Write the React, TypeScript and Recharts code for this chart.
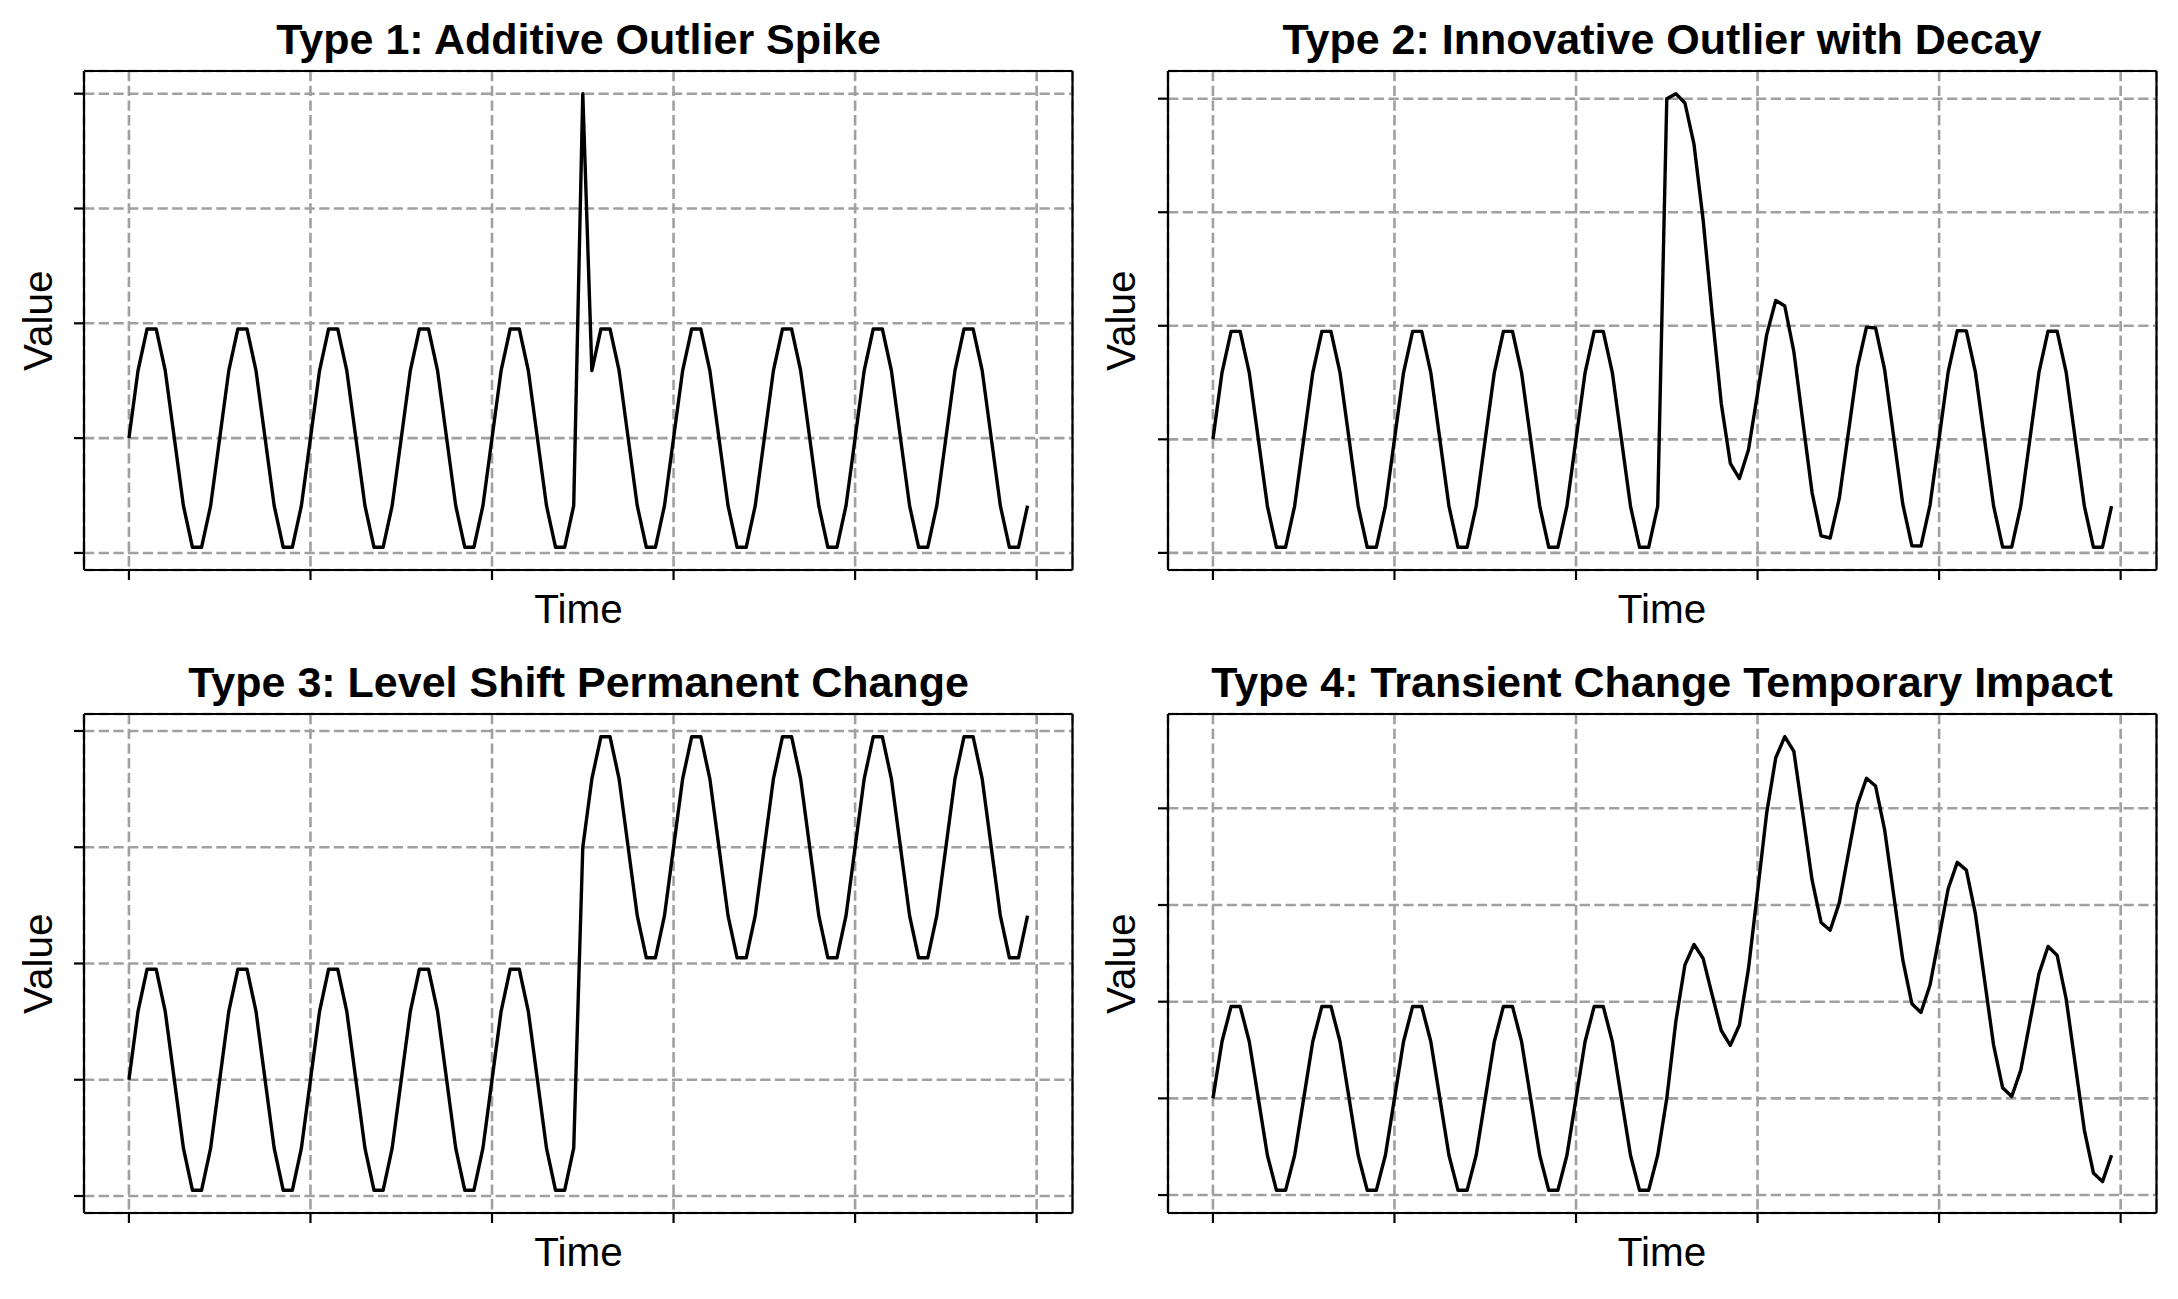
import { LineChart, Line, XAxis, YAxis, CartesianGrid } from "recharts"

// time axis ticks and value axis ticks (labels are hidden in the original)
const TIME_TICKS = [0, 20, 40, 60, 80, 100]
const VALUE_TICKS = [-1, 0, 1, 2, 3]

// Type 1: one spike at t = 50
const additive = [
  0, 0.588, 0.951, 0.951, 0.588, 0, -0.588, -0.951, -0.951, -0.588,
  0, 0.588, 0.951, 0.951, 0.588, 0, -0.588, -0.951, -0.951, -0.588,
  0, 0.588, 0.951, 0.951, 0.588, 0, -0.588, -0.951, -0.951, -0.588,
  0, 0.588, 0.951, 0.951, 0.588, 0, -0.588, -0.951, -0.951, -0.588,
  0, 0.588, 0.951, 0.951, 0.588, 0, -0.588, -0.951, -0.951, -0.588,
  3.0, 0.588, 0.951, 0.951, 0.588, 0, -0.588, -0.951, -0.951, -0.588,
  0, 0.588, 0.951, 0.951, 0.588, 0, -0.588, -0.951, -0.951, -0.588,
  0, 0.588, 0.951, 0.951, 0.588, 0, -0.588, -0.951, -0.951, -0.588,
  0, 0.588, 0.951, 0.951, 0.588, 0, -0.588, -0.951, -0.951, -0.588,
  0, 0.588, 0.951, 0.951, 0.588, 0, -0.588, -0.951, -0.951, -0.588,
]

// Type 2: spike at t = 50 that dies away
const innovative = [
  0, 0.588, 0.951, 0.951, 0.588, 0, -0.588, -0.951, -0.951, -0.588,
  0, 0.588, 0.951, 0.951, 0.588, 0, -0.588, -0.951, -0.951, -0.588,
  0, 0.588, 0.951, 0.951, 0.588, 0, -0.588, -0.951, -0.951, -0.588,
  0, 0.588, 0.951, 0.951, 0.588, 0, -0.588, -0.951, -0.951, -0.588,
  0, 0.588, 0.951, 0.951, 0.588, 0, -0.588, -0.951, -0.951, -0.588,
  3.0, 3.044, 2.962, 2.597, 1.936, 1.104, 0.316, -0.211, -0.345, -0.092,
  0.406, 0.92, 1.223, 1.174, 0.771, 0.149, -0.466, -0.851, -0.869, -0.521,
  0.055, 0.633, 0.988, 0.981, 0.613, 0.02, -0.571, -0.937, -0.94, -0.579,
  0.007, 0.594, 0.956, 0.955, 0.591, 0.003, -0.586, -0.949, -0.949, -0.587,
  0.001, 0.589, 0.952, 0.952, 0.589, 0.001, -0.587, -0.95, -0.95, -0.588,
]

// Type 3: level jumps by 2 at t = 50
const levelShift = [
  0, 0.588, 0.951, 0.951, 0.588, 0, -0.588, -0.951, -0.951, -0.588,
  0, 0.588, 0.951, 0.951, 0.588, 0, -0.588, -0.951, -0.951, -0.588,
  0, 0.588, 0.951, 0.951, 0.588, 0, -0.588, -0.951, -0.951, -0.588,
  0, 0.588, 0.951, 0.951, 0.588, 0, -0.588, -0.951, -0.951, -0.588,
  0, 0.588, 0.951, 0.951, 0.588, 0, -0.588, -0.951, -0.951, -0.588,
  2.0, 2.588, 2.951, 2.951, 2.588, 2.0, 1.412, 1.049, 1.049, 1.412,
  2.0, 2.588, 2.951, 2.951, 2.588, 2.0, 1.412, 1.049, 1.049, 1.412,
  2.0, 2.588, 2.951, 2.951, 2.588, 2.0, 1.412, 1.049, 1.049, 1.412,
  2.0, 2.588, 2.951, 2.951, 2.588, 2.0, 1.412, 1.049, 1.049, 1.412,
  2.0, 2.588, 2.951, 2.951, 2.588, 2.0, 1.412, 1.049, 1.049, 1.412,
]

// Type 4: bump that ramps up then fades out
const transient = [
  0, 0.588, 0.951, 0.951, 0.588, 0, -0.588, -0.951, -0.951, -0.588,
  0, 0.588, 0.951, 0.951, 0.588, 0, -0.588, -0.951, -0.951, -0.588,
  0, 0.588, 0.951, 0.951, 0.588, 0, -0.588, -0.951, -0.951, -0.588,
  0, 0.588, 0.951, 0.951, 0.588, 0, -0.588, -0.951, -0.951, -0.588,
  0, 0.588, 0.951, 0.951, 0.588, 0, -0.588, -0.951, -0.951, -0.588,
  0, 0.798, 1.381, 1.591, 1.448, 1.07, 0.702, 0.549, 0.759, 1.342,
  2.14, 2.948, 3.521, 3.741, 3.588, 2.93, 2.262, 1.819, 1.739, 2.022,
  2.53, 3.038, 3.311, 3.231, 2.778, 2.1, 1.432, 0.979, 0.889, 1.172,
  1.67, 2.168, 2.441, 2.361, 1.908, 1.23, 0.552, 0.109, 0.019, 0.292,
  0.79, 1.288, 1.571, 1.481, 1.028, 0.35, -0.328, -0.771, -0.861, -0.588,
]

const titles = [
  "Type 1: Additive Outlier Spike",
  "Type 2: Innovative Outlier with Decay",
  "Type 3: Level Shift Permanent Change",
  "Type 4: Transient Change Temporary Impact",
]
const seriesList = [additive, innovative, levelShift, transient]

const FIG_W = 2178
const FIG_H = 1299
const COL_X = [84.3, 1167.7]
const ROW_Y = [71.3, 714.3]
const AX_W = 988.5
const AX_H = 499
const PAD = 24
const FONT = "'Liberation Sans', Arial, Helvetica, sans-serif"
const SPINE = { stroke: "#000", strokeWidth: 2.2 }
const blank = () => ""

function Panel({ values, left, top }: { values: number[]; left: number; top: number }) {
  const data = values.map((v, i) => ({ t: i, v }))
  const lo = Math.min(...values)
  const hi = Math.max(...values)
  const span = hi - lo
  const n = values.length - 1
  const xDomain = [-0.05 * n, n * 1.05]
  const yDomain = [lo - 0.05 * span, hi + 0.05 * span]

  // the axes take the padding themselves, so the margins are zero
  return (
    <div style={{ position: "absolute", left: left - PAD, top: top - PAD }}>
      <LineChart
        width={AX_W + 2 * PAD}
        height={AX_H + 2 * PAD}
        data={data}
        margin={{ top: 0, right: 0, bottom: 0, left: 0 }}
      >
        <CartesianGrid stroke="#a0a0a0" strokeWidth={2.6} strokeDasharray="10.3 4.4" />
        <XAxis
          dataKey="t"
          type="number"
          domain={xDomain}
          ticks={TIME_TICKS}
          interval={0}
          allowDataOverflow
          height={PAD}
          tickSize={10}
          tickFormatter={blank}
          tickLine={SPINE}
          axisLine={SPINE}
        />
        <XAxis
          xAxisId="top"
          orientation="top"
          dataKey="t"
          type="number"
          domain={xDomain}
          allowDataOverflow
          height={PAD}
          tick={false}
          tickLine={false}
          axisLine={SPINE}
        />
        <YAxis
          type="number"
          domain={yDomain}
          ticks={VALUE_TICKS}
          interval={0}
          allowDataOverflow
          width={PAD}
          tickSize={10}
          tickFormatter={blank}
          tickLine={SPINE}
          axisLine={SPINE}
        />
        <YAxis
          yAxisId="right"
          orientation="right"
          type="number"
          domain={yDomain}
          allowDataOverflow
          width={PAD}
          tick={false}
          tickLine={false}
          axisLine={SPINE}
        />
        <Line
          type="linear"
          dataKey="v"
          stroke="#000"
          strokeWidth={3.4}
          strokeLinejoin="round"
          dot={false}
          isAnimationActive={false}
        />
      </LineChart>
    </div>
  )
}

export default function App() {
  return (
    <div style={{ position: "absolute", left: 0, top: 0, width: FIG_W, height: FIG_H, background: "#fff" }}>
      {seriesList.map((values, i) => (
        <Panel key={i} values={values} left={COL_X[i % 2]} top={ROW_Y[Math.floor(i / 2)]} />
      ))}
      <svg
        width={FIG_W}
        height={FIG_H}
        style={{ position: "absolute", left: 0, top: 0, pointerEvents: "none" }}
        fontFamily={FONT}
      >
        {titles.map((title, i) => {
          const x = COL_X[i % 2]
          const y = ROW_Y[Math.floor(i / 2)]
          const cx = x + AX_W / 2
          const cy = y + AX_H / 2
          const labelX = x - 32.6
          return (
            <g key={i}>
              <text x={cx} y={y - 17.6} textAnchor="middle" fontSize={43} fontWeight="bold" fill="#000">
                {title}
              </text>
              <text x={cx} y={y + AX_H + 53} textAnchor="middle" fontSize={40.5} fill="#000">
                Time
              </text>
              <text
                x={labelX}
                y={cy}
                textAnchor="middle"
                fontSize={40.5}
                fill="#000"
                transform={`rotate(-90, ${labelX}, ${cy})`}
              >
                Value
              </text>
            </g>
          )
        })}
      </svg>
    </div>
  )
}
